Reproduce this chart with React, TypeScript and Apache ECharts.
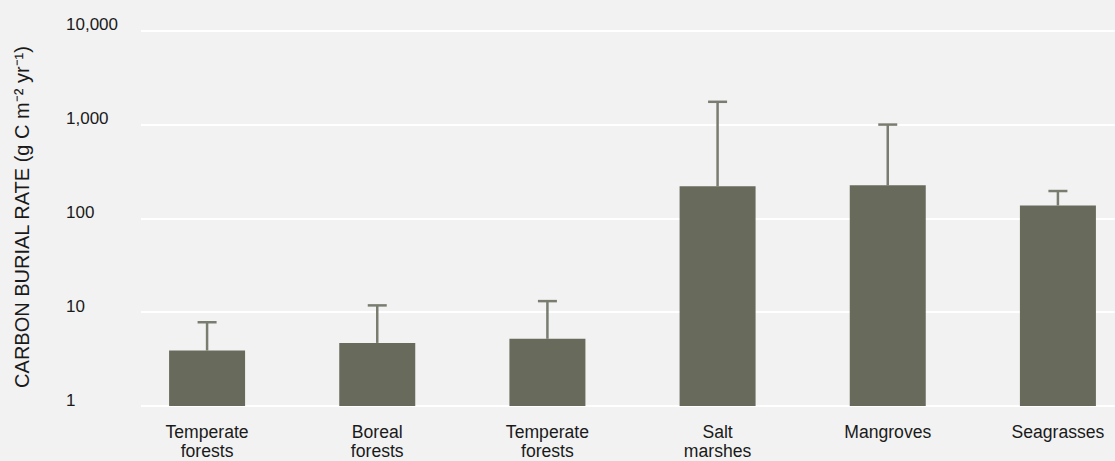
import React, { useEffect, useRef } from "react";
import * as echarts from "echarts";

const categories = ["Temperate\nforests", "Boreal\nforests", "Temperate\nforests", "Salt\nmarshes", "Mangroves", "Seagrasses"];
const burialRate = [3.9, 4.7, 5.2, 219, 224, 137];
const errorUpper = [7.8, 11.8, 13.1, 1740, 995, 195];
const yTicks = [1, 10, 100, 1000, 10000];

export default function App() {
  const ref = useRef<HTMLDivElement>(null);
  useEffect(() => {
    document.body.style.margin = "0";
    document.body.style.overflow = "hidden";
    document.body.style.background = "#f2f2f2";
    const chart = echarts.init(ref.current!, null, { renderer: "svg" });
    const errData = burialRate.map((v, i) => [i, v, errorUpper[i]]);
    const font = "'Liberation Sans', Arial, sans-serif";
    chart.setOption({
      animation: false,
      backgroundColor: "#f2f2f2",
      grid: [
        { left: 141, right: 28, top: 30.5, bottom: 55 },
        { left: 122, right: 0, top: 30.5, bottom: 55 },
      ],
      xAxis: [
        { type: "value", gridIndex: 0, show: false, min: 0, max: 1 },
        {
          type: "category",
          gridIndex: 1,
          data: categories,
          axisLine: { show: false },
          axisTick: { show: false },
          axisLabel: { color: "#1a1a1a", fontSize: 17.6, lineHeight: 19, margin: 16, fontFamily: font, interval: 0 },
        },
      ],
      yAxis: [
        {
          type: "log",
          gridIndex: 0,
          logBase: 10,
          min: 1,
          max: 10000,
          axisLine: { show: false },
          axisTick: { show: false },
          splitLine: { show: true, lineStyle: { color: "#ffffff", width: 2 } },
          axisLabel: {
            color: "#1a1a1a",
            fontSize: 17,
            fontFamily: font,
            align: "left",
            verticalAlign: "bottom",
            lineHeight: 12,
            margin: 75,
            formatter: (v: number) => {
              const t = yTicks.find((x) => Math.abs(x - v) / x < 1e-6);
              return t !== undefined ? t.toLocaleString("en-US") : "";
            },
          },
        },
        {
          type: "log",
          gridIndex: 1,
          logBase: 10,
          min: 1,
          max: 10000,
          show: false,
        },
      ],
      graphic: [
        {
          type: "text",
          x: 22,
          y: 217,
          rotation: Math.PI / 2,
          style: {
            text: "CARBON BURIAL RATE (g C m⁻² yr⁻¹)",
            fill: "#1a1a1a",
            font: "20px 'Liberation Sans', Arial, sans-serif",
            align: "center",
            verticalAlign: "middle",
          },
        },
      ],
      series: [
        {
          type: "bar",
          xAxisIndex: 1,
          yAxisIndex: 1,
          data: burialRate,
          barWidth: 76,
          itemStyle: { color: "#686b5c" },
          z: 2,
        },
        {
          type: "custom",
          xAxisIndex: 1,
          yAxisIndex: 1,
          data: errData,
          z: 1,
          renderItem: (params: any, api: any) => {
            const x = api.value(0);
            const lo = api.coord([x, api.value(1)]);
            const hi = api.coord([x, api.value(2)]);
            const style = { stroke: "#797d6f", lineWidth: 2.5 };
            return {
              type: "group",
              children: [
                { type: "line", shape: { x1: lo[0], y1: lo[1], x2: hi[0], y2: hi[1] }, style },
                { type: "line", shape: { x1: hi[0] - 9.5, y1: hi[1], x2: hi[0] + 9.5, y2: hi[1] }, style },
              ],
            };
          },
        },
      ],
    });
    return () => chart.dispose();
  }, []);
  return <div ref={ref} style={{ width: 1143, height: 461 }} />;
}
